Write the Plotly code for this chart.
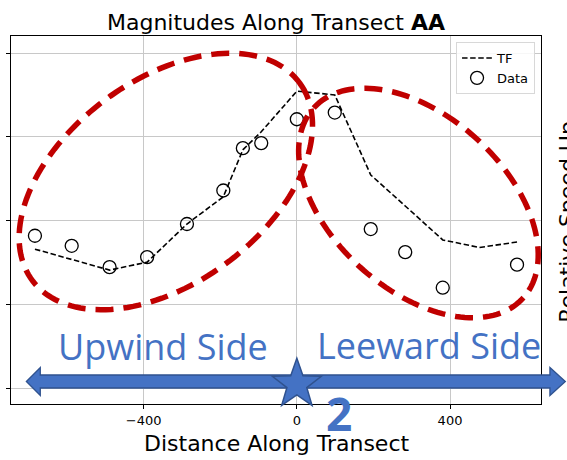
import numpy as np
import plotly.graph_objects as go

# ---- data ----
tf_x = [-684, -588, -489, -391, -287, -192, -141, -93, 0, 99, 193, 283, 381, 477, 575]
tf_y = [0.932, 0.907, 0.882, 0.901, 0.992, 1.057, 1.169, 1.212, 1.309, 1.300, 1.109, 1.035, 0.954, 0.936, 0.949]
data_x = [-684, -588, -489, -391, -287, -192, -141, -93, 0, 99, 193, 283, 381, 575]
data_y = [0.964, 0.940, 0.889, 0.913, 0.992, 1.072, 1.173, 1.185, 1.242, 1.258, 0.980, 0.925, 0.840, 0.895]
x_ticks = [-400, 0, 400]
y_ticks = [0.6, 0.8, 1.0, 1.2, 1.4]

title_text = "Magnitudes Along Transect <b>AA</b>"
x_label = "Distance Along Transect"
y_label = "Relative Speed Up"
side_labels = ["Upwind Side", "Leeward Side"]
marker_label = "2"

# ---- layout geometry (pixels) ----
W, H = 567, 460
L, R, T, B = 7, 541, 36, 404
PW, PH = R - L, B - T


def pp(px, py):
    """pixel -> paper coordinates"""
    return (px - L) / PW, (B - py) / PH


def path_from_pixels(pts, close=True):
    s = ""
    for i, (px, py) in enumerate(pts):
        x, y = pp(px, py)
        s += ("M" if i == 0 else "L") + f"{x:.5f},{y:.5f} "
    if close:
        s += "Z"
    return s


def ellipse_pts(cx, cy, a, b, theta_deg, n=160):
    th = np.deg2rad(theta_deg)
    u = np.array([np.cos(th), -np.sin(th)])
    v = np.array([np.sin(th), np.cos(th)])
    t = np.linspace(0, 2 * np.pi, n)
    return [(cx + a * np.cos(tt) * u[0] + b * np.sin(tt) * v[0],
             cy + a * np.cos(tt) * u[1] + b * np.sin(tt) * v[1]) for tt in t]


def star_pts(cx, cy, r_out, r_in):
    pts = []
    for k in range(10):
        ang = np.deg2rad(-90 + 36 * k)
        r = r_out if k % 2 == 0 else r_in
        pts.append((cx + r * np.cos(ang), cy + r * np.sin(ang)))
    return pts


fig = go.Figure()
fig.add_trace(go.Scatter(
    x=tf_x, y=tf_y, mode="lines", name="TF",
    line=dict(color="black", width=1.6, dash="5.5px,2.6px"),
))
fig.add_trace(go.Scatter(
    x=data_x, y=data_y, mode="markers", name="Data",
    marker=dict(symbol="circle-open", size=13, color="black", line=dict(width=1.3)),
))

red = "#c00000"
blue = "#4472c4"
blue_dark = "#2f528f"

shapes = [
    dict(type="path", xref="paper", yref="paper",
         path=path_from_pixels(ellipse_pts(163, 181.5, 167, 102, 36)),
         line=dict(color=red, width=5.5, dash="18px,10px"), layer="above"),
    dict(type="path", xref="paper", yref="paper",
         path=path_from_pixels(ellipse_pts(417.5, 203, 142, 87, -41.8)),
         line=dict(color=red, width=5.5, dash="18px,10px"), layer="above"),
]

arrow = [(22.5, 381.5), (36.5, 367.5), (36.5, 375), (550, 375), (550, 367.5),
         (565.5, 381.5), (550, 395.5), (550, 388), (36.5, 388), (36.5, 395.5)]
shapes.append(dict(type="path", xref="paper", yref="paper", path=path_from_pixels(arrow),
                   fillcolor=blue, line=dict(color=blue_dark, width=1.3), layer="above"))
shapes.append(dict(type="path", xref="paper", yref="paper",
                   path=path_from_pixels(star_pts(295, 384.3, 26, 10.5)),
                   fillcolor=blue, line=dict(color=blue_dark, width=1.5), layer="above"))

annotations = []
ux, uy = pp(160, 346)
annotations.append(dict(x=ux, y=uy, xref="paper", yref="paper", text=side_labels[0],
                        showarrow=False, xanchor="center", yanchor="middle",
                        font=dict(family="Open Sans", size=36, color=blue)))
lx, ly = pp(428, 345)
annotations.append(dict(x=lx, y=ly, xref="paper", yref="paper", text=side_labels[1],
                        showarrow=False, xanchor="center", yanchor="middle",
                        font=dict(family="Open Sans", size=36, color=blue)))
tx, ty = pp(337.5, 413)
annotations.append(dict(x=tx, y=ty, xref="paper", yref="paper", text=f"<b>{marker_label}</b>",
                        showarrow=False, xanchor="center", yanchor="middle",
                        font=dict(family="Open Sans", size=46, color=blue)))
rx, ry = pp(567, 222)
annotations.append(dict(x=rx, y=ry, xref="paper", yref="paper", text=y_label,
                        showarrow=False, xanchor="center", yanchor="middle", textangle=-90,
                        font=dict(family="DejaVu Sans", size=22, color="black")))
xlx, xly = pp(274, 443)
annotations.append(dict(x=xlx, y=xly, xref="paper", yref="paper", text=x_label,
                        showarrow=False, xanchor="center", yanchor="middle",
                        font=dict(family="DejaVu Sans", size=22, color="black")))

fig.update_layout(
    width=W, height=H,
    margin=dict(l=L, r=W - R, t=T, b=H - B, pad=0),
    paper_bgcolor="white", plot_bgcolor="white",
    font=dict(family="DejaVu Sans", color="black"),
    title=dict(text=title_text, x=0.5, xref="paper", xanchor="center",
               y=1 - 22 / H, yref="container", yanchor="middle",
               font=dict(family="DejaVu Sans", size=22, color="black")),
    showlegend=True,
    legend=dict(x=(535 - L) / PW, y=(B - 42) / PH, xanchor="right", yanchor="top",
                bgcolor="rgba(255,255,255,0.85)", bordercolor="#d8d8d8", borderwidth=1,
                font=dict(family="DejaVu Sans", size=13, color="black"),
                tracegroupgap=0, itemwidth=30),
    shapes=shapes,
    annotations=annotations,
)
fig.update_xaxes(range=[-746.5, 637.6], tickvals=x_ticks, ticks="outside", ticklen=4,
                 tickcolor="black", showgrid=True, gridcolor="#c8c8c8", gridwidth=1,
                 showline=True, linecolor="black", linewidth=1, mirror=True,
                 zeroline=False, tickfont=dict(family="DejaVu Sans", size=13, color="black"))
fig.update_yaxes(range=[0.5625, 1.4406], tickvals=y_ticks, showticklabels=False,
                 ticks="outside", ticklen=4, tickcolor="black",
                 showgrid=True, gridcolor="#c8c8c8", gridwidth=1,
                 showline=True, linecolor="black", linewidth=1, mirror=True, zeroline=False)

fig.write_html("out.html")
